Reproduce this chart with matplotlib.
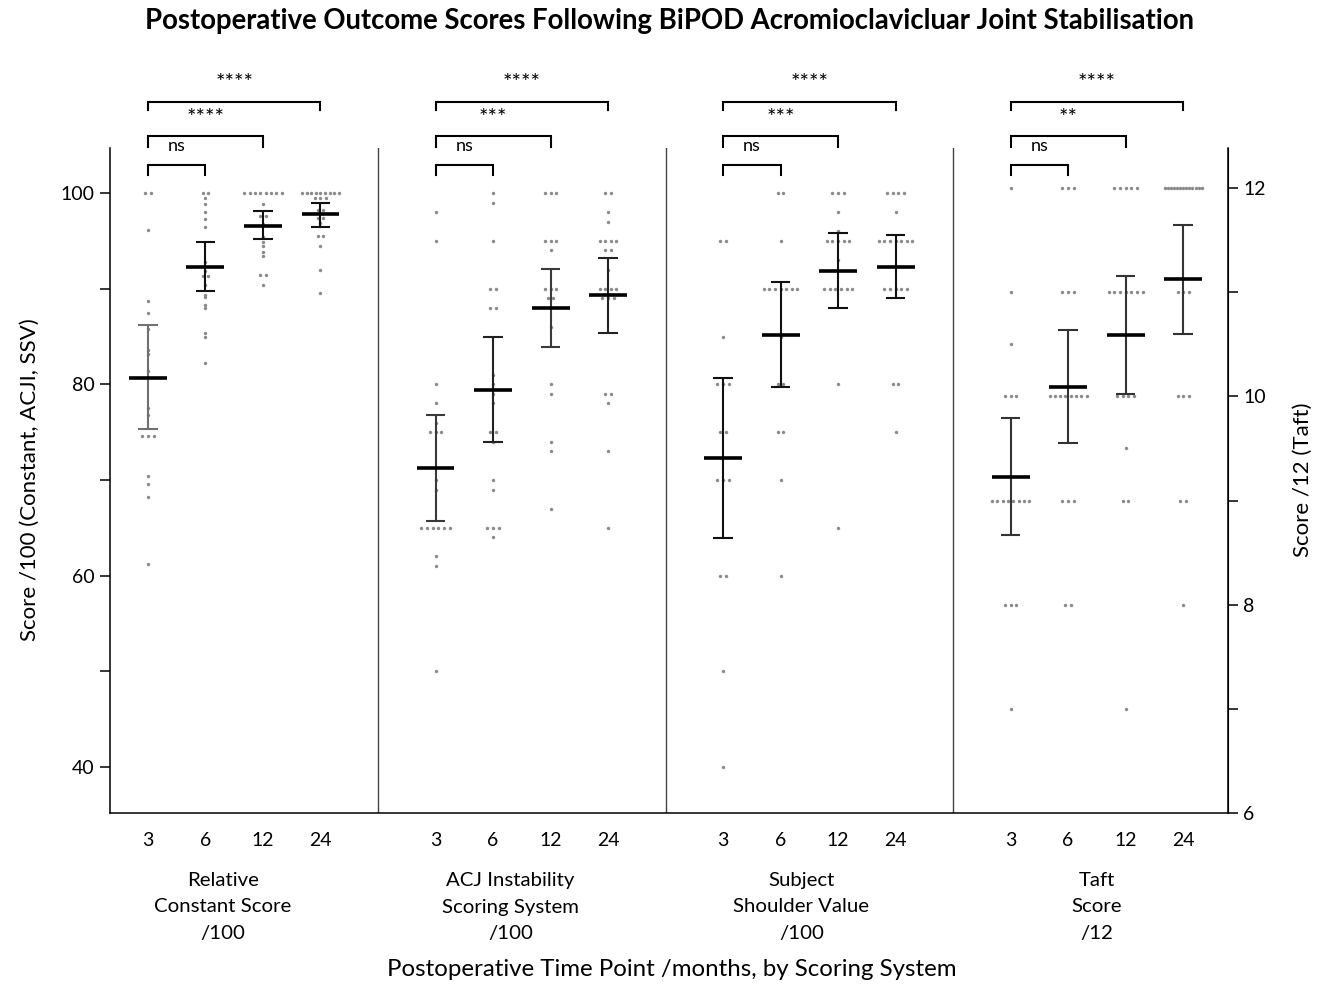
import numpy as np
import matplotlib.pyplot as plt
import matplotlib.transforms as mtransforms

plt.rcParams['font.family'] = ['Lato', 'DejaVu Sans']

# Data
time_points = ['3', '6', '12', '24']
systems = ['Relative\nConstant Score\n/100', 'ACJ Instability\nScoring System\n/100',
           'Subject\nShoulder Value\n/100', 'Taft\nScore\n/12']

constant = [
    [100, 100, 96.1, 88.7, 87.5, 85.8, 83.6, 83.2, 81.4, 77.5, 76.8, 74.6, 74.6, 74.6, 70.4, 69.6, 68.2, 61.2],
    [100, 100, 99.5, 98.9, 98.0, 97.3, 96.5, 92.8, 91.9, 91.3, 91.3, 90.4, 89.3, 89.1, 88.3, 88.0, 85.4, 85.0, 82.2],
    [100] * 8 + [98.9, 97.6, 97.6, 96.8, 95.4, 94.9, 94.5, 93.8, 93.4, 91.4, 91.4, 90.4],
    [100] * 9 + [99.5] * 3 + [98.2] * 2 + [97.4] * 2 + [96.9, 95.5, 95.5, 94.5, 92.0, 89.6],
]
acji = [
    [98, 95, 80, 78, 76, 75, 75, 75, 70, 69, 65, 65, 65, 65, 65, 65, 62, 61, 50],
    [100, 99, 95, 90, 90, 88, 88, 81, 80, 79, 78, 75, 75, 74, 70, 69, 65, 65, 65, 64],
    [100, 100, 100, 95, 95, 95, 94, 90, 90, 90, 89, 89, 86, 80, 79, 74, 73, 67],
    [100, 100, 98, 97, 95, 95, 95, 95, 94, 94, 92, 90, 90, 90, 90, 89, 89, 89, 79, 79, 78, 73, 65],
]
ssv = [
    [95, 95, 85, 80, 80, 80, 75, 75, 70, 70, 70, 60, 60, 50, 40],
    [100, 100, 95, 90, 90, 90, 90, 90, 90, 90, 85, 80, 80, 75, 75, 70, 60],
    [100, 100, 100, 98, 96, 95, 95, 95, 95, 95, 93, 90, 90, 90, 90, 90, 90, 80, 65],
    [100] * 4 + [98] + [95] * 7 + [90] * 5 + [80] * 2 + [75],
]
taft = [
    [12, 11, 10.5, 10, 10, 10] + [9] * 8 + [8] * 3 + [7],
    [12] * 3 + [11] * 3 + [10] * 8 + [9] * 3 + [8] * 2,
    [12] * 5 + [11] * 7 + [10] * 4 + [9.5] + [9] * 2 + [7],
    [12] * 13 + [11] * 3 + [10] * 3 + [9] * 2 + [8],
]

# mean and 95% CI as drawn
means = [[80.7, 92.3, 96.6, 97.8], [71.2, 79.4, 88.0, 89.3],
         [72.3, 85.2, 91.8, 92.3], [9.23, 10.09, 10.59, 11.125]]
ci_low = [[75.3, 89.8, 95.2, 96.5], [65.7, 74.0, 83.9, 85.4],
          [63.9, 79.7, 88.0, 89.0], [8.67, 9.55, 10.02, 10.6]]
ci_high = [[86.2, 94.9, 98.1, 99.0], [76.8, 84.9, 92.1, 93.2],
           [80.7, 90.7, 95.8, 95.6], [9.79, 10.64, 11.16, 11.65]]

# significance vs 3 months: 6, 12, 24
sig_labels = [['ns', '****', '****'], ['ns', '***', '****'],
              ['ns', '***', '****'], ['ns', '**', '****']]

fig = plt.figure(figsize=(13.27, 9.86), dpi=100)
ax = fig.add_axes([110 / 1327, 1 - 813 / 986, 1118 / 1327, 665 / 986])
ax2 = ax.twinx()

ax.set_xlim(-0.66, 18.78)
ax.set_ylim(35.18, 104.71)
ax2.set_ylim(6.0, 12.385)

dot_col = '#8a8a8a'
bar_cols = [['#707070', '#111111', '#111111', '#111111'],
            ['#3a3a3a', '#222222', '#3a3a3a', '#222222'],
            ['#111111'] * 4,
            ['#333333'] * 4]


def draw_dots(a, x0, vals):
    uv, cnt = np.unique(vals, return_counts=True)
    for v, n in zip(uv, cnt):
        sp = 0.098 if n < 2 else min(0.098, 0.645 / (n - 1))
        xs = x0 + (np.arange(n) - (n - 1) / 2) * sp
        a.scatter(xs, [v] * n, s=6, color=dot_col, linewidths=0, zorder=2)


all_data = [constant, acji, ssv, taft]
for p, data in enumerate(all_data):
    a = ax2 if p == 3 else ax
    for g in range(4):
        x0 = p * 5 + g
        draw_dots(a, x0, data[g])
        c = bar_cols[p][g]
        a.vlines(x0, ci_low[p][g], ci_high[p][g], color=c, lw=1.5, zorder=3)
        a.hlines([ci_low[p][g], ci_high[p][g]], x0 - 0.17, x0 + 0.17, color=c, lw=1.5, zorder=3)
        a.hlines(means[p][g], x0 - 0.33, x0 + 0.33, color='black', lw=2.6, zorder=4)

# panel dividers
for xd in [4, 9, 14]:
    ax.axvline(xd, color='#444444', lw=1.0, zorder=1)

# significance brackets (drawn in left-axis units above the plot)
br_y = [102.93, 105.97, 109.53]
br_drop = [1.05, 1.15, 0.84]
txt_y = [104.92, 107.85, 111.5]
for p in range(4):
    x0 = p * 5
    for k in range(3):
        x1 = x0 + k + 1
        y = br_y[k]
        ax.plot([x0, x0, x1, x1], [y - br_drop[k], y, y, y - br_drop[k]],
                color='black', lw=1.5, clip_on=False, solid_joinstyle='miter')
        lab = sig_labels[p][k]
        ax.text((x0 + x1) / 2, txt_y[k] if lab != 'ns' else 104.92, lab,
                ha='center', va='center', fontsize=13 if lab == 'ns' else 16,
                clip_on=False)

# axes styling
ax.spines['top'].set_visible(False)
ax2.spines['top'].set_visible(False)
for s in ['left', 'bottom']:
    ax.spines[s].set_linewidth(1.1)
ax2.spines['right'].set_linewidth(1.1)
ax2.spines['left'].set_visible(False)
ax2.spines['bottom'].set_visible(False)

xpos = [p * 5 + g for p in range(4) for g in range(4)]
ax.set_xticks(xpos)
ax.set_xticklabels(time_points * 4, fontsize=14)
ax.tick_params(axis='x', length=0, pad=14)

ax.set_yticks([40, 60, 80, 100])
ax.set_yticks([50, 70, 90], minor=True)
ax.tick_params(axis='y', which='major', length=7, width=1.1, labelsize=14, pad=4)
ax.tick_params(axis='y', which='minor', length=7, width=1.1)
ax2.set_yticks([6, 8, 10, 12])
ax2.set_yticks([7, 9, 11], minor=True)
ax2.tick_params(axis='y', which='major', length=7, width=1.1, labelsize=14, pad=4)
ax2.tick_params(axis='y', which='minor', length=7, width=1.1)

# scoring system labels under the time points
trans = mtransforms.blended_transform_factory(ax.transData, fig.transFigure)
sys_x = [1.3, 6.3, 11.36, 16.5]
for sx, lab in zip(sys_x, systems):
    ax.text(sx, 1 - 907 / 986, lab, transform=trans, ha='center', va='center',
            fontsize=14.7, linespacing=1.7)

fig.text(672 / 1327, 1 - 969 / 986, 'Postoperative Time Point /months, by Scoring System',
         ha='center', va='center', fontsize=17.3)
fig.text(30 / 1327, 1 - 480 / 986, 'Score /100 (Constant, ACJI, SSV)', rotation=90,
         ha='center', va='center', fontsize=16)
fig.text(1303 / 1327, 1 - 480 / 986, 'Score /12 (Taft)', rotation=90,
         ha='center', va='center', fontsize=16)
fig.text(669 / 1327, 1 - 21 / 986,
         'Postoperative Outcome Scores Following BiPOD Acromioclavicluar Joint Stabilisation',
         ha='center', va='center', fontsize=19.8, fontweight='bold')

fig.savefig('out.png', dpi=100)
